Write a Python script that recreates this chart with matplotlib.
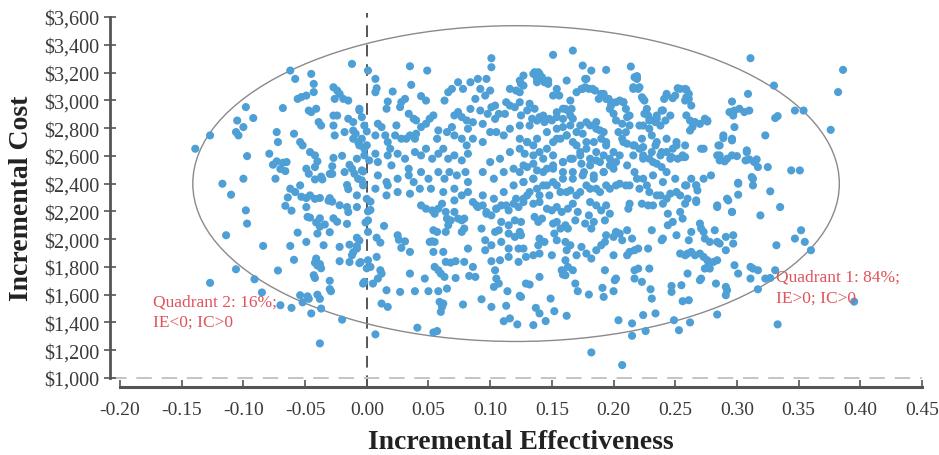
import matplotlib
matplotlib.use("Agg")
import matplotlib.pyplot as plt
from matplotlib.patches import Ellipse
import numpy as np

# ---- data (incremental effectiveness, incremental cost) ----
q2_upper = [
    (-0.139, 2651), (-0.127, 2747), (-0.105, 2854), (-0.106, 2771), (-0.104, 2747),
    (-0.100, 2807), (-0.098, 2951), (-0.092, 2872), (-0.097, 2598), (-0.100, 2435),
    (-0.117, 2399), (-0.110, 2320), (-0.098, 2207), (-0.097, 2112), (-0.079, 2615),
    (-0.076, 2536), (-0.074, 2435), (-0.073, 2771), (-0.072, 2699), (-0.068, 2944),
    (-0.062, 3214), (-0.058, 3154), (-0.056, 3010), (-0.053, 3023), (-0.049, 3034),
    (-0.045, 3190), (-0.043, 3118), (-0.043, 3059), (-0.059, 2759), (-0.054, 2699),
    (-0.052, 2675), (-0.046, 2627), (-0.042, 2603), (-0.047, 2926), (-0.045, 2915),
    (-0.041, 2939), (-0.039, 2843), (-0.037, 2818), (-0.027, 3094), (-0.024, 3070),
    (-0.022, 3046), (-0.019, 3010), (-0.026, 3010), (-0.012, 3262), (-0.015, 2998),
    (-0.027, 2818), (-0.026, 2747), (-0.018, 2771), (-0.027, 2890), (-0.024, 2890),
    (-0.015, 2867), (-0.011, 2843), (-0.006, 2939), (-0.002, 2818), (-0.011, 2782),
    (-0.011, 2723), (-0.007, 2699), (-0.006, 2675), (-0.073, 2560), (-0.068, 2550),
    (-0.065, 2555), (-0.062, 2363), (-0.058, 2339), (-0.054, 2387), (-0.049, 2507),
    (-0.047, 2471), (-0.042, 2519), (-0.042, 2430), (-0.036, 2430), (-0.030, 2470),
    (-0.028, 2470), (-0.018, 2483), (-0.012, 2507), (-0.010, 2471), (-0.004, 2423),
    (-0.053, 2305), (-0.049, 2296), (-0.046, 2315), (-0.042, 2290), (-0.038, 2296),
    (-0.049, 2231), (-0.048, 2160), (-0.046, 2155), (-0.038, 2150), (-0.030, 2295),
    (-0.028, 2270), (-0.022, 2244), (-0.016, 2231), (-0.015, 2195), (-0.008, 2231),
    (-0.016, 2390), (-0.015, 2360), (0.000, 2776), (0.000, 2676), (-0.002, 2603),
    (-0.003, 2487), (0.002, 2567), (0.000, 2290), (0.001, 2200), (-0.001, 2120),
    (-0.037, 2450), (-0.040, 2560), (-0.070, 2505), (-0.066, 2490), (-0.064, 2300),
    (-0.066, 2240), (-0.061, 2205), (-0.031, 2277), (-0.020, 2600), (-0.014, 2535),
    (-0.027, 2585), (-0.028, 2525),
]

q2_lower = [
    (-0.114, 2028), (-0.106, 1783), (-0.127, 1685), (-0.091, 1711), (-0.084, 1951),
    (-0.085, 1616), (-0.072, 1774), (-0.070, 1524), (-0.061, 1505), (-0.062, 1951),
    (-0.056, 2047), (-0.049, 1980), (-0.059, 1851), (-0.054, 1596), (-0.048, 1588),
    (-0.047, 1570), (-0.043, 1740), (-0.042, 1830), (-0.041, 1860), (-0.040, 1810),
    (-0.038, 1820), (-0.037, 1790), (-0.042, 1720), (-0.038, 1570), (-0.037, 1500),
    (-0.040, 2040), (-0.038, 2090), (-0.041, 2120), (-0.030, 2050), (-0.030, 1700),
    (-0.030, 1640), (-0.027, 2150), (-0.024, 2125), (-0.016, 2110), (-0.022, 1944),
    (-0.022, 1841), (-0.014, 1835), (-0.011, 1905), (-0.008, 1950), (-0.008, 2010),
    (-0.020, 1420), (-0.038, 1249), (-0.045, 1465), (-0.002, 1692), (-0.005, 1835),
    (0.000, 1790), (-0.035, 1956), (-0.014, 1960), (-0.012, 1884), (-0.029, 1625),
    (-0.052, 1545), (-0.040, 1600), (-0.034, 2105),
]

near_zero_low = [
    (0.007, 1314), (0.008, 1872), (0.011, 1776), (0.012, 1752), (0.009, 1716),
    (0.005, 1680), (0.008, 2010), (0.011, 1975), (0.014, 2095), (0.016, 1632),
    (0.017, 1512), (0.012, 1536), (0.025, 2028), (0.031, 1984), (0.035, 1908),
    (0.027, 1620), (0.039, 1625), (0.041, 1362), (0.050, 1625), (0.054, 1328),
    (0.057, 1338), (0.035, 1752), (0.058, 1625), (0.065, 1644), (0.059, 1548),
    (0.061, 1512), (0.060, 1476), (0.062, 1536), (0.078, 1529), (0.047, 1716),
    (0.055, 1800), (0.058, 1776), (0.060, 1752), (0.063, 1728), (0.064, 1836),
    (0.028, 1937), (0.026, 1995), (0.001, 1848), (0.003, 1800), (-0.003, 1680),
    (-0.006, 1827), (-0.008, 1932), (-0.006, 1990), (0.001, 2052), (0.001, 2135),
    (0.003, 2210), (0.003, 2270),
]

mid_low = [
    (0.082, 1932), (0.079, 2076), (0.077, 2052), (0.074, 2148), (0.068, 2135),
    (0.071, 2279), (0.079, 2148), (0.057, 2052), (0.053, 1984), (0.054, 1908),
    (0.062, 1908), (0.066, 2100), (0.064, 2052), (0.068, 1831), (0.072, 1841),
    (0.079, 1836), (0.086, 1800), (0.072, 1720), (0.083, 1735), (0.088, 1728),
    (0.101, 1841), (0.104, 1776), (0.105, 1716), (0.103, 1656), (0.107, 1680),
    (0.108, 1848), (0.115, 1872), (0.123, 1836), (0.093, 1567), (0.101, 1512),
    (0.113, 1520), (0.111, 1409), (0.116, 1429), (0.122, 1386), (0.124, 1592),
    (0.114, 1625), (0.044, 2243), (0.048, 2219), (0.053, 2207), (0.055, 2183),
    (0.058, 2219), (0.061, 2255), (0.064, 2196), (0.065, 2148), (0.054, 2064),
    (0.055, 1980), (0.051, 1980), (0.071, 2196), (0.077, 2135), (0.086, 2267),
    (0.090, 2231), (0.094, 2243), (0.097, 2183), (0.101, 2171), (0.105, 2219),
    (0.109, 2243), (0.115, 2207), (0.119, 2255), (0.123, 2231), (0.125, 2124),
    (0.120, 2135), (0.115, 2100), (0.109, 2124), (0.107, 2064), (0.115, 2040),
    (0.120, 2016), (0.124, 2052), (0.104, 2052), (0.093, 2076), (0.096, 1992),
    (0.096, 1920), (0.101, 1956), (0.109, 1980), (0.115, 1932), (0.123, 1932),
]

center_low = [
    (0.182, 1184), (0.207, 1093), (0.135, 1381), (0.145, 1410), (0.140, 1465),
    (0.137, 1505), (0.152, 1481), (0.162, 1448), (0.149, 1572), (0.132, 1673),
    (0.140, 1728), (0.159, 1745), (0.159, 1764), (0.169, 1680), (0.171, 1625),
    (0.180, 1601), (0.191, 1649), (0.192, 1584), (0.200, 1625), (0.202, 1716),
    (0.201, 1704), (0.204, 1416), (0.215, 1393), (0.215, 1304), (0.224, 1453),
    (0.226, 1338), (0.234, 1465), (0.217, 1716), (0.223, 1692), (0.230, 1639),
    (0.231, 1572), (0.247, 1663), (0.247, 1620), (0.255, 1668), (0.256, 1553),
    (0.249, 1416), (0.253, 1344), (0.260, 1752), (0.254, 1896), (0.260, 1896),
    (0.127, 2267), (0.135, 2255), (0.140, 2267), (0.146, 2219), (0.150, 2207),
    (0.154, 2231), (0.158, 2196), (0.163, 2219), (0.167, 2255), (0.171, 2196),
    (0.181, 2267), (0.186, 2243), (0.190, 2207), (0.194, 2243), (0.197, 2183),
    (0.212, 2219), (0.213, 2255), (0.223, 2255), (0.228, 2243), (0.232, 2243),
    (0.240, 2255), (0.244, 2183), (0.254, 2196), (0.258, 2255), (0.136, 2160),
    (0.139, 2124), (0.142, 2148), (0.151, 2112), (0.154, 2124), (0.157, 2076),
    (0.161, 2100), (0.163, 2076), (0.169, 2135), (0.177, 2112), (0.180, 2171),
    (0.184, 2124), (0.182, 2076), (0.193, 2135), (0.194, 2028), (0.200, 2016),
    (0.202, 2052), (0.205, 2040), (0.207, 1992), (0.211, 2064), (0.215, 2004),
    (0.231, 2064), (0.239, 1992), (0.240, 2004), (0.244, 2100), (0.248, 2124),
    (0.251, 2028), (0.256, 2148), (0.125, 2028), (0.127, 1932), (0.129, 1872),
    (0.135, 1884), (0.140, 1896), (0.139, 1956), (0.140, 2004), (0.144, 1980),
    (0.150, 1884), (0.152, 2040), (0.154, 1992), (0.161, 1980), (0.162, 1920),
    (0.165, 1956), (0.170, 1884), (0.174, 1944), (0.178, 1896), (0.182, 1860),
    (0.186, 1920), (0.190, 1956), (0.193, 1980), (0.200, 1884), (0.211, 1884),
    (0.213, 1908), (0.217, 1920), (0.220, 1932), (0.228, 1932), (0.258, 1884),
    (0.161, 1848), (0.163, 1800), (0.167, 1776), (0.158, 1776), (0.161, 1740),
    (0.193, 1776), (0.217, 1776), (0.220, 1788), (0.229, 1788), (0.129, 1680),
    (0.125, 1584),
]

right_side = [
    (0.333, 1386), (0.284, 1457), (0.262, 1400), (0.261, 1560), (0.270, 1704),
    (0.271, 1716), (0.274, 1788), (0.277, 1812), (0.276, 1848), (0.273, 1872),
    (0.270, 1896), (0.266, 1884), (0.263, 1908), (0.278, 1788), (0.281, 1836),
    (0.284, 1848), (0.283, 1680), (0.291, 1656), (0.291, 1596), (0.292, 1632),
    (0.298, 1812), (0.301, 1752), (0.311, 1800), (0.313, 1788), (0.317, 1776),
    (0.311, 1716), (0.317, 1639), (0.323, 1716), (0.327, 1720), (0.331, 1776),
    (0.332, 1956), (0.319, 2171), (0.335, 2231), (0.296, 2196), (0.284, 2243),
    (0.267, 2267), (0.293, 2279), (0.270, 2112), (0.271, 2076), (0.273, 2052),
    (0.274, 2004), (0.278, 1980), (0.282, 2064), (0.284, 1980), (0.286, 1968),
    (0.291, 2016), (0.291, 1920), (0.297, 2028), (0.297, 1968), (0.261, 1992),
    (0.263, 2052), (0.352, 2064), (0.347, 2004), (0.355, 1980), (0.360, 1920),
    (0.395, 1550), (0.311, 3303), (0.386, 3219), (0.382, 3059), (0.330, 3106),
    (0.309, 3046), (0.296, 2991), (0.298, 2926), (0.294, 2915), (0.302, 2939),
    (0.306, 2915), (0.310, 2926), (0.297, 2890), (0.347, 2926), (0.354, 2926),
    (0.331, 2872), (0.333, 2886), (0.376, 2787), (0.323, 2747), (0.298, 2807),
    (0.289, 2728), (0.286, 2675), (0.296, 2711), (0.273, 2651), (0.284, 2603),
    (0.286, 2567), (0.290, 2560), (0.300, 2598), (0.308, 2639), (0.307, 2567),
    (0.310, 2574), (0.316, 2574), (0.317, 2519), (0.325, 2519), (0.344, 2495),
    (0.351, 2495), (0.279, 2459), (0.301, 2406), (0.313, 2435), (0.313, 2387),
    (0.327, 2344), (0.301, 2320), (0.292, 2291), (0.258, 3082), (0.261, 3046),
    (0.263, 2962), (0.258, 2998), (0.262, 2854), (0.266, 2843), (0.264, 2807),
    (0.274, 2867), (0.276, 2847), (0.262, 2782), (0.258, 2591), (0.263, 2435),
    (0.267, 2387), (0.268, 2351), (0.260, 2291), (0.267, 2279), (0.284, 2231),
    (0.296, 2196), (0.301, 2399), (0.312, 2447), (0.314, 2555), (0.308, 2627),
]

upper_right = [
    (0.101, 3303), (0.101, 3238), (0.151, 3327), (0.167, 3358), (0.175, 3250),
    (0.182, 3214), (0.194, 3219), (0.214, 3243), (0.219, 3174), (0.252, 3087),
    (0.259, 3077), (0.243, 3034), (0.241, 3010), (0.248, 3015), (0.261, 3010),
    (0.239, 2926), (0.235, 2890), (0.242, 2854), (0.246, 2890), (0.229, 2854),
    (0.224, 2818), (0.231, 2747), (0.234, 2675), (0.223, 2723), (0.251, 2675),
    (0.256, 2603), (0.271, 2651), (0.285, 2675), (0.286, 2603), (0.292, 2579),
    (0.296, 2603), (0.289, 2747), (0.296, 2723), (0.270, 2830), (0.276, 2854),
    (0.084, 3130), (0.090, 3154), (0.097, 3154), (0.092, 3082), (0.100, 3070),
    (0.096, 3034), (0.088, 3010), (0.101, 2950), (0.104, 2962), (0.084, 2938),
    (0.092, 2926), (0.098, 2902), (0.086, 2842), (0.094, 2830), (0.104, 2866),
    (0.107, 2902), (0.112, 2902), (0.113, 2986), (0.116, 3082), (0.121, 3070),
    (0.116, 2962), (0.120, 2950), (0.124, 2986), (0.127, 3178), (0.125, 3118),
    (0.135, 3190), (0.139, 3202), (0.142, 3166), (0.147, 3142), (0.138, 3130),
    (0.154, 3082), (0.156, 3034), (0.151, 3034), (0.162, 3142), (0.165, 2998),
    (0.161, 2938), (0.166, 2938), (0.170, 3058), (0.175, 3082), (0.178, 3154),
    (0.177, 3094), (0.183, 3082), (0.190, 3046), (0.196, 3010), (0.188, 3010),
    (0.197, 2938), (0.202, 2986), (0.208, 2986), (0.210, 2938), (0.213, 2890),
    (0.216, 3082), (0.219, 3154), (0.221, 3094), (0.224, 3010), (0.227, 2938),
    (0.228, 2890), (0.234, 2842), (0.238, 2818), (0.221, 2818), (0.210, 2770),
    (0.208, 2699), (0.217, 2675), (0.216, 2603), (0.224, 2579), (0.232, 2555),
    (0.239, 2519), (0.243, 2483), (0.246, 2579), (0.248, 2651), (0.239, 2627),
    (0.231, 2627), (0.224, 2663), (0.086, 2723), (0.094, 2699), (0.100, 2771),
    (0.105, 2771), (0.111, 2747), (0.116, 2795), (0.124, 2818), (0.132, 2818),
    (0.138, 2854), (0.143, 2890), (0.148, 2866), (0.154, 2914), (0.159, 2866),
    (0.165, 2890), (0.173, 2818), (0.178, 2842), (0.186, 2795), (0.192, 2771),
    (0.194, 2699), (0.186, 2627), (0.178, 2699), (0.170, 2675), (0.162, 2747),
    (0.154, 2723), (0.146, 2771), (0.138, 2723), (0.130, 2699), (0.124, 2651),
    (0.116, 2627), (0.108, 2579), (0.100, 2555), (0.094, 2483), (0.103, 2435),
    (0.111, 2483), (0.119, 2507), (0.127, 2531), (0.135, 2543), (0.143, 2579),
    (0.151, 2603), (0.159, 2555), (0.165, 2579), (0.173, 2603), (0.181, 2579),
    (0.189, 2555), (0.197, 2579), (0.205, 2603), (0.200, 2507), (0.192, 2483),
    (0.184, 2459), (0.176, 2483), (0.167, 2435), (0.159, 2483), (0.151, 2507),
    (0.143, 2483), (0.135, 2435), (0.127, 2411), (0.119, 2387), (0.111, 2339),
    (0.103, 2291), (0.094, 2315), (0.089, 2243), (0.097, 2195), (0.105, 2219),
    (0.113, 2243), (0.121, 2291), (0.130, 2315), (0.138, 2363), (0.146, 2387),
    (0.154, 2387), (0.162, 2339), (0.170, 2315), (0.178, 2387), (0.186, 2363),
    (0.194, 2387), (0.202, 2387), (0.210, 2387), (0.219, 2435), (0.227, 2387),
    (0.235, 2315), (0.243, 2291), (0.251, 2339), (0.259, 2387), (0.267, 2387),
    (0.273, 2435),
]

near_zero_high = [
    (0.001, 3214), (0.007, 3154), (0.008, 3087), (0.007, 3058), (0.035, 3245),
    (0.049, 3214), (0.036, 3111), (0.021, 3063), (0.017, 2991), (0.016, 2939),
    (0.028, 2987), (0.031, 3010), (0.027, 2951), (0.044, 3030), (0.048, 2998),
    (0.074, 3130), (0.069, 3082), (0.066, 3058), (0.078, 3082), (0.063, 2998),
    (-0.006, 2927), (-0.004, 2879), (-0.009, 2759), (-0.004, 2723), (-0.002, 2651),
    (-0.008, 2579), (-0.004, 2495), (-0.007, 2435), (-0.003, 2387), (-0.008, 2315),
    (0.009, 2831), (0.012, 2807), (0.007, 2747), (0.015, 2747), (0.017, 2699),
    (0.019, 2651), (0.023, 2747), (0.024, 2819), (0.028, 2723), (0.032, 2723),
    (0.035, 2747), (0.039, 2723), (0.040, 2759), (0.034, 2903), (0.038, 2867),
    (0.040, 2855), (0.051, 2867), (0.054, 2891), (0.044, 2807), (0.048, 2831),
    (0.058, 2783), (0.057, 2723), (0.065, 2771), (0.069, 2807), (0.071, 2891),
    (0.074, 2915), (0.077, 2879), (0.081, 2855), (0.082, 2795), (0.071, 2747),
    (0.077, 2723), (0.081, 2675), (0.007, 2615), (0.009, 2555), (0.017, 2603),
    (0.020, 2531), (0.025, 2615), (0.031, 2579), (0.034, 2507), (0.039, 2627),
    (0.044, 2603), (0.048, 2651), (0.053, 2579), (0.058, 2615), (0.062, 2651),
    (0.066, 2579), (0.071, 2603), (0.077, 2567), (0.082, 2615), (0.009, 2459),
    (0.016, 2411), (0.017, 2387), (0.025, 2435), (0.034, 2459), (0.038, 2411),
    (0.044, 2483), (0.050, 2435), (0.058, 2483), (0.063, 2435), (0.067, 2483),
    (0.073, 2459), (0.080, 2483), (0.082, 2411), (0.007, 2363), (0.016, 2315),
    (0.025, 2339), (0.035, 2327), (0.043, 2363), (0.052, 2363), (0.062, 2339),
    (0.071, 2363), (0.077, 2315), (0.082, 2339),
]

center_high = [
    (0.136, 3202), (0.140, 3190), (0.138, 3154), (0.144, 3130), (0.147, 3118),
    (0.124, 3142), (0.127, 3106), (0.124, 3058), (0.177, 3154), (0.174, 3082),
    (0.180, 3082), (0.185, 3070), (0.192, 3046), (0.194, 3010), (0.198, 2987),
    (0.205, 2998), (0.208, 2987), (0.216, 3094), (0.220, 3082), (0.223, 3022),
    (0.225, 2998), (0.217, 3166), (0.243, 3046), (0.250, 3034), (0.254, 3082),
    (0.259, 3022), (0.259, 2891), (0.240, 2927), (0.235, 2867), (0.232, 2855),
    (0.225, 2903), (0.229, 2795), (0.132, 2975), (0.136, 2939), (0.130, 2927),
    (0.125, 2891), (0.134, 2867), (0.140, 2879), (0.144, 2843), (0.150, 2855),
    (0.154, 2879), (0.159, 2939), (0.163, 2927), (0.167, 2867), (0.165, 2819),
    (0.159, 2807), (0.154, 2795), (0.170, 2771), (0.175, 2759), (0.181, 2819),
    (0.186, 2843), (0.189, 2783), (0.198, 2963), (0.200, 2903), (0.202, 2855),
    (0.207, 2831), (0.211, 2879), (0.213, 2819), (0.204, 2771), (0.207, 2723),
    (0.211, 2687), (0.216, 2675), (0.221, 2651), (0.224, 2603), (0.229, 2579),
    (0.235, 2543), (0.238, 2603), (0.243, 2627), (0.247, 2591), (0.252, 2579),
    (0.256, 2591), (0.235, 2699), (0.243, 2723), (0.251, 2699), (0.258, 2675),
    (0.124, 2723), (0.130, 2699), (0.135, 2675), (0.128, 2615), (0.135, 2603),
    (0.140, 2627), (0.146, 2651), (0.151, 2699), (0.157, 2723), (0.162, 2747),
    (0.167, 2699), (0.173, 2627), (0.178, 2651), (0.184, 2699), (0.190, 2723),
    (0.194, 2675), (0.200, 2627), (0.192, 2603), (0.186, 2567), (0.181, 2531),
    (0.174, 2543), (0.167, 2579), (0.159, 2555), (0.151, 2531), (0.146, 2507),
    (0.138, 2495), (0.130, 2519), (0.124, 2483), (0.127, 2411), (0.135, 2435),
    (0.143, 2387), (0.151, 2411), (0.159, 2435), (0.167, 2483), (0.175, 2459),
    (0.184, 2435), (0.192, 2483), (0.197, 2531), (0.202, 2555), (0.211, 2531),
    (0.217, 2483), (0.224, 2435), (0.232, 2459), (0.240, 2411), (0.250, 2435),
    (0.258, 2387), (0.254, 2315), (0.246, 2327), (0.238, 2315), (0.229, 2339),
    (0.221, 2363), (0.213, 2387), (0.205, 2399), (0.197, 2363), (0.189, 2339),
    (0.181, 2363), (0.173, 2339), (0.165, 2351), (0.157, 2339), (0.148, 2315),
    (0.140, 2315), (0.132, 2339), (0.127, 2291),
]

groups = [q2_upper, q2_lower, near_zero_low, mid_low, center_low,
          right_side, upper_right, near_zero_high, center_high]
points = np.array([p for g in groups for p in g])
ie = points[:, 0]
ic = points[:, 1]

x_ticks = [-0.20, -0.15, -0.10, -0.05, 0.00, 0.05, 0.10, 0.15, 0.20, 0.25, 0.30, 0.35, 0.40, 0.45]
y_ticks = list(range(1000, 3601, 200))

# confidence ellipse (centre, full width, full height)
ell_center = (0.121, 2400)
ell_width = 0.524
ell_height = 2274

q1_label = "Quadrant 1: 84%;\nIE>0; IC>0"
q2_label = "Quadrant 2: 16%;\nIE<0; IC>0"

# ---- figure ----
serif = "Liberation Serif"
axis_col = "#555555"

fig = plt.figure(figsize=(9.39, 4.56), dpi=100)
ax = fig.add_axes([0.1278, 0.1689, 0.8541, 0.7917])
ax.set_xlim(-0.20, 0.45)
ax.set_ylim(1000, 3600)

ax.scatter(ie, ic, s=34, color="#4d9fd6", edgecolors="none", zorder=3)

ax.add_patch(Ellipse(ell_center, ell_width, ell_height, fill=False,
                     edgecolor="#8a8a8a", lw=1.0, zorder=2))

# reference lines
ax.plot([0, 0], [935, 3625], color="#555555", lw=1.4, dashes=(6, 4),
        clip_on=False, zorder=1)
ax.plot([-0.207, 0.45], [1000, 1000], color="#c4c4c4", lw=1.4, dashes=(8, 5),
        clip_on=False, zorder=1)

for s in ["top", "right"]:
    ax.spines[s].set_visible(False)
ax.spines["left"].set_position(("outward", 7.2))
ax.spines["bottom"].set_position(("outward", 6.5))
ax.spines["left"].set_color(axis_col)
ax.spines["bottom"].set_color(axis_col)
ax.spines["left"].set_linewidth(2.0)
ax.spines["bottom"].set_linewidth(2.2)

ax.set_xticks(x_ticks)
ax.set_xticklabels([f"{v:.2f}" for v in x_ticks])
ax.set_yticks(y_ticks)
ax.set_yticklabels([f"${v:,}" for v in y_ticks])
ax.tick_params(axis="x", direction="in", length=5, width=1.2, color=axis_col,
               labelsize=14, labelcolor="#3a3a3a", pad=10)
ax.tick_params(axis="y", direction="inout", length=9, width=1.2, color=axis_col,
               labelsize=14.5, labelcolor="#3a3a3a", pad=3)
for lab in ax.get_xticklabels() + ax.get_yticklabels():
    lab.set_family(serif)

ax.set_xlabel("Incremental Effectiveness", fontsize=20, fontweight="bold",
              family=serif, color="#222222")
ax.set_ylabel("Incremental Cost", fontsize=20, fontweight="bold",
              family=serif, color="#222222")
ax.xaxis.set_label_coords(0.50, -0.177)
ax.xaxis.label.set_va("center")
ax.yaxis.set_label_coords(-0.123, 0.50)
ax.yaxis.label.set_va("center")

ax.text(-0.173, 1480, q2_label, fontsize=12.5, family=serif, color="#e0525c",
        ha="left", va="center", linespacing=1.35, zorder=4)
ax.text(0.332, 1655, q1_label, fontsize=12.5, family=serif, color="#e0525c",
        ha="left", va="center", linespacing=1.35, zorder=4)

fig.savefig("out.png", dpi=100)
